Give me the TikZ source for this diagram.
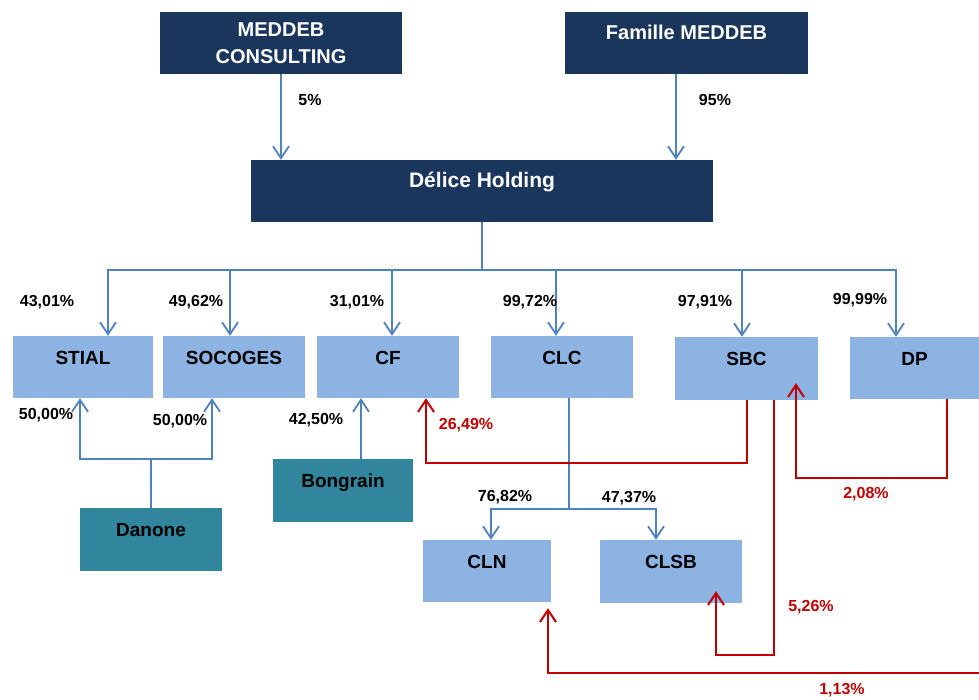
\documentclass[tikz,border=0pt]{standalone}
\usepackage{fontspec}
\setmainfont{Liberation Sans}
\usepackage{tikz}
\usetikzlibrary{arrows.meta,positioning}

\definecolor{marine}{RGB}{27,54,93}
\definecolor{bleuclair}{RGB}{141,179,226}
\definecolor{canard}{RGB}{49,133,156}
\definecolor{bleulien}{RGB}{79,129,189}
\definecolor{rouge}{RGB}{192,0,0}

\tikzset{
	boite/.style={rectangle,inner sep=0pt,align=center,font=\bfseries\fontsize{19}{21}\selectfont,text height=14pt,text depth=20pt},
	tete/.style={boite,fill=marine,text=white,minimum width=242pt,minimum height=62pt,font=\bfseries\fontsize{20}{27}\selectfont},
	filiale/.style={boite,fill=bleuclair,text=black,minimum width=142pt,minimum height=62pt},
	tiers/.style={boite,fill=canard,text=black,minimum width=141pt,minimum height=63pt},
	lien/.style={draw=bleulien,line width=1.8pt},
	lienrouge/.style={draw=rouge,line width=2pt,>={Straight Barb[length=12pt,width=16pt,line width=2pt]}},
	pct/.style={font=\bfseries\fontsize{16}{18}\selectfont,text=black,inner sep=0pt},
	pctrouge/.style={pct,text=rouge},
	>={Straight Barb[length=12pt,width=16pt,line width=1.8pt]}
}

\begin{document}
\begin{tikzpicture}[x=1pt,y=-1pt]
	\useasboundingbox (0,0) rectangle (979,700);

	% actionnaires
	\node[tete,text height=,text depth=] (consult) at (281,43) {MEDDEB\\CONSULTING};
	\node[tete,minimum width=243pt] (famille) at (686.5,43) {Famille MEDDEB};
	\node[tete,minimum width=462pt,font=\bfseries\fontsize{21}{23}\selectfont] (holding) at (482,191) {Délice Holding};

	% filiales
	\node[filiale,minimum width=140pt] (stial) at (83,367) {STIAL};
	\node[filiale] (socoges) at (234,367) {SOCOGES};
	\node[filiale] (cf) at (388,367) {CF};
	\node[filiale] (clc) at (562,367) {CLC};
	\node[filiale,minimum width=143pt,minimum height=63pt] (sbc) at (746.5,368.5) {SBC};
	\node[filiale,minimum width=129pt] (dp) at (914.5,368) {DP};
	\node[filiale,minimum width=128pt] (cln) at (487,571) {CLN};
	\node[filiale,minimum height=63pt] (clsb) at (671,571.5) {CLSB};
	\node[tiers,minimum width=142pt] (danone) at (151,539.5) {Danone};
	\node[tiers,minimum width=140pt] (bongrain) at (343,490.5) {Bongrain};

	% liens bleus
	\draw[lien,->] (consult.south) -- (consult.south |- holding.north);
	\draw[lien,->] ([xshift=-10.5pt]famille.south) -- ([xshift=-10.5pt]famille.south |- holding.north);
	\coordinate (bus) at (482,270);
	\draw[lien] (holding.south) -- (bus);
	\foreach \n/\dx in {stial/25,socoges/-4,cf/4,clc/-6,sbc/-4.5,dp/-18.5}
		\draw[lien,->] (bus) -| ([xshift=\dx pt]\n.north);

	\coordinate (dbar) at (151,459);
	\draw[lien] (danone.north) -- (dbar);
	\draw[lien,->] (dbar) -| ([xshift=-3pt]stial.south);
	\draw[lien,->] (dbar) -| ([xshift=-22pt]socoges.south);
	\draw[lien,->] ([xshift=18pt]bongrain.north) -- ([xshift=18pt]bongrain.north |- cf.south);

	\coordinate (cbar) at (569,509);
	\draw[lien] ([xshift=7pt]clc.south) -- (cbar);
	\draw[lien,->] (cbar) -| ([xshift=4pt]cln.north);
	\draw[lien,->] (cbar) -| ([xshift=-15pt]clsb.north);

	% participations croisees
	\draw[lienrouge,->] (sbc.south) -- ++(0,63) -| ([xshift=38pt]cf.south);
	\draw[lienrouge,->] ([xshift=32.5pt]dp.south) -- ++(0,79) -| ([xshift=49.5pt,yshift=17pt]sbc.south);
	\draw[lienrouge,->] ([xshift=27.5pt]sbc.south) -- ++(0,255) -| ([xshift=45pt,yshift=12pt]clsb.south);
	\coordinate (bord) at (979,673);
	\draw[lienrouge,->] (bord) -| ([xshift=61pt,yshift=-6pt]cln.south);

	% pourcentages
	\node[pct] (p1) at (310,100) {5\%};
	\node[pct] (p2) at (715,100) {95\%};
	\node[pct] (p3) at (47,302) {43,01\%};
	\node[pct] (p4) at (196,302) {49,62\%};
	\node[pct] (p5) at (357,302) {31,01\%};
	\node[pct] (p6) at (530,302) {99,72\%};
	\node[pct] (p7) at (705,302) {97,91\%};
	\node[pct] (p8) at (860,300) {99,99\%};
	\node[pct] (p9) at (46,415) {50,00\%};
	\node[pct] (p10) at (180,421) {50,00\%};
	\node[pct] (p11) at (316,420) {42,50\%};
	\node[pct] (p12) at (505,497) {76,82\%};
	\node[pct] (p13) at (629,498) {47,37\%};
	\node[pctrouge] (p14) at (466,425) {26,49\%};
	\node[pctrouge] (p15) at (866,494) {2,08\%};
	\node[pctrouge] (p16) at (811,607) {5,26\%};
	\node[pctrouge] (p17) at (842,690) {1,13\%};
\end{tikzpicture}
\end{document}
